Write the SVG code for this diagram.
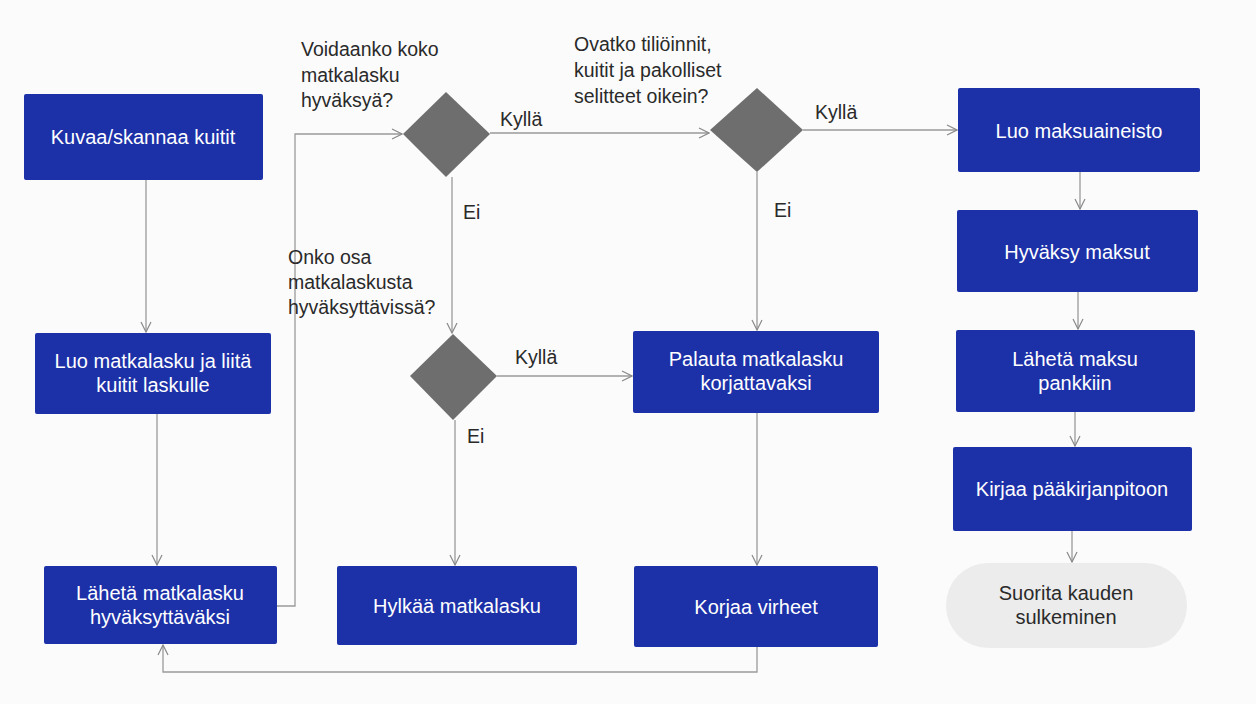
<svg xmlns="http://www.w3.org/2000/svg" width="1256" height="704" viewBox="0 0 1256 704">
<defs>
<marker id="arr" viewBox="0 0 12 12" refX="11" refY="6" markerWidth="12" markerHeight="12" markerUnits="userSpaceOnUse" orient="auto">
<path d="M1,1 L11,6 L1,11" fill="none" stroke="#8a8a8a" stroke-width="1.2"/>
</marker>
</defs>
<style>
.box{fill:#1c30a8;}
.dia{fill:#6e6e6e;}
.bt{font-family:"Liberation Sans",Arial,sans-serif;font-size:20px;fill:#ffffff;text-anchor:middle;}
.q{font-family:"Liberation Sans",Arial,sans-serif;font-size:19.5px;fill:#2a2a2a;}
.lbl{font-family:"Liberation Sans",Arial,sans-serif;font-size:19.5px;fill:#2a2a2a;}
.c{fill:none;stroke:#9a9a9a;stroke-width:1.3;}
.end{fill:#ececec;}
.et{font-family:"Liberation Sans",Arial,sans-serif;font-size:20px;fill:#2a2a2a;text-anchor:middle;}
</style>
<rect width="1256" height="704" fill="#fbfbfb"/>

<g id="connectors">
<path class="c" d="M146,180 V332" marker-end="url(#arr)"/>
<path class="c" d="M157,414 V565" marker-end="url(#arr)"/>
<path class="c" d="M277,606 H295 V134 H402" marker-end="url(#arr)"/>
<path class="c" d="M490,133 H709" marker-end="url(#arr)"/>
<path class="c" d="M803,130 H957" marker-end="url(#arr)"/>
<path class="c" d="M452,177 V333" marker-end="url(#arr)"/>
<path class="c" d="M757,172 V330" marker-end="url(#arr)"/>
<path class="c" d="M497,376 H632" marker-end="url(#arr)"/>
<path class="c" d="M455,420 V565" marker-end="url(#arr)"/>
<path class="c" d="M757,413 V565" marker-end="url(#arr)"/>
<path class="c" d="M757,647 V672 H163 V645" marker-end="url(#arr)"/>
<path class="c" d="M1080,172 V209" marker-end="url(#arr)"/>
<path class="c" d="M1078,292 V329" marker-end="url(#arr)"/>
<path class="c" d="M1075,412 V446" marker-end="url(#arr)"/>
<path class="c" d="M1072,531 V562" marker-end="url(#arr)"/>
<text class="lbl" x="500" y="126">Kyllä</text>
<text class="lbl" x="815" y="119">Kyllä</text>
<text class="lbl" x="515" y="364">Kyllä</text>
<text class="lbl" x="463" y="219">Ei</text>
<text class="lbl" x="774" y="217">Ei</text>
<text class="lbl" x="467" y="443">Ei</text>
</g>

<g id="n1"><rect class="box" x="24" y="94" width="239" height="86" rx="2"/><text class="bt" x="143" y="144">Kuvaa/skannaa kuitit</text></g>
<g id="n2"><rect class="box" x="35" y="333" width="236" height="81" rx="2"/><text class="bt" x="153" y="368">Luo matkalasku ja liitä</text><text class="bt" x="153" y="392">kuitit laskulle</text></g>
<g id="n3"><rect class="box" x="44" y="566" width="233" height="78" rx="2"/><text class="bt" x="160" y="600">Lähetä matkalasku</text><text class="bt" x="160" y="624">hyväksyttäväksi</text></g>

<g id="d1"><polygon class="dia" points="446,92 490,134 446,177 403,134"/><text class="q" x="301" y="56">Voidaanko koko</text><text class="q" x="301" y="82">matkalasku</text><text class="q" x="301" y="107">hyväksyä?</text></g>
<g id="d2"><polygon class="dia" points="757,88 803,130 757,172 710,130"/><text class="q" x="574" y="51">Ovatko tiliöinnit,</text><text class="q" x="574" y="77">kuitit ja pakolliset</text><text class="q" x="574" y="103">selitteet oikein?</text></g>
<g id="d3"><polygon class="dia" points="453,334 497,376 453,420 410,376"/><text class="q" x="288" y="264">Onko osa</text><text class="q" x="288" y="289">matkalaskusta</text><text class="q" x="288" y="314">hyväksyttävissä?</text></g>

<g id="n4"><rect class="box" x="633" y="331" width="246" height="82" rx="2"/><text class="bt" x="756" y="366">Palauta matkalasku</text><text class="bt" x="756" y="390">korjattavaksi</text></g>
<g id="n5"><rect class="box" x="337" y="566" width="240" height="79" rx="2"/><text class="bt" x="457" y="613">Hylkää matkalasku</text></g>
<g id="n6"><rect class="box" x="634" y="566" width="244" height="81" rx="2"/><text class="bt" x="756" y="614">Korjaa virheet</text></g>

<g id="n7"><rect class="box" x="958" y="88" width="242" height="84" rx="2"/><text class="bt" x="1079" y="138">Luo maksuaineisto</text></g>
<g id="n8"><rect class="box" x="957" y="210" width="241" height="82" rx="2"/><text class="bt" x="1077" y="259">Hyväksy maksut</text></g>
<g id="n9"><rect class="box" x="956" y="330" width="239" height="82" rx="2"/><text class="bt" x="1075" y="366">Lähetä maksu</text><text class="bt" x="1075" y="390">pankkiin</text></g>
<g id="n10"><rect class="box" x="953" y="447" width="239" height="84" rx="2"/><text class="bt" x="1072" y="496">Kirjaa pääkirjanpitoon</text></g>
<g id="n11"><rect class="end" x="946" y="563" width="241" height="85" rx="42"/><text class="et" x="1066" y="600">Suorita kauden</text><text class="et" x="1066" y="624">sulkeminen</text></g>
</svg>
